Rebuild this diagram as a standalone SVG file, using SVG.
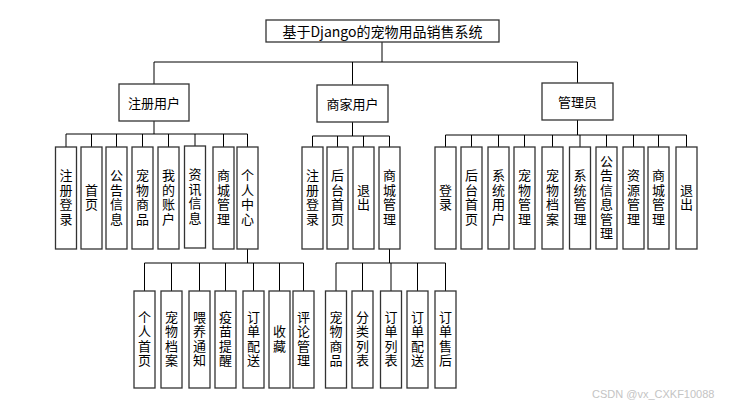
<svg xmlns="http://www.w3.org/2000/svg" width="737" height="406" viewBox="0 0 737 406">
<style>
.box{fill:#fff;stroke:#333;stroke-width:1.3}
.ln{fill:none;stroke:#000;stroke-width:1}
text{font-family:"Noto Sans CJK SC","Noto Sans",sans-serif;fill:#000}
.h{font-size:13px;text-anchor:middle;dominant-baseline:central}
.v{font-size:13px;text-anchor:middle;writing-mode:vertical-rl;letter-spacing:1.5px}
.t{font-size:14px;text-anchor:middle;dominant-baseline:central}
.wm{font-family:"Liberation Sans",Arial,sans-serif;font-size:11px;fill:#c4c4c4}
</style>
<rect width="737" height="406" fill="#fff"/>
<g id="connectors">
<path class="ln" d="M382 42V62M154 62H577.5M154 62V84M352.5 62V85M577.5 62V83"/>
<path class="ln" d="M154 121V134M66 134H247.5M66 134V147M91.5 134V147M116.5 134V147M142.5 134V147M168.5 134V147M195 134V147M223.5 134V147M247.5 134V147"/>
<path class="ln" d="M352.5 122V136M312.5 136H389.5M312.5 136V147M337.5 136V147M363.5 136V147M389.5 136V147"/>
<path class="ln" d="M577.5 120V135M445.5 135H686.5M445.5 135V147M471.5 135V147M498.5 135V147M524.5 135V147M552.5 135V147M580 135V147M606.5 135V147M633.5 135V147M658.5 135V147M686.5 135V147"/>
<path class="ln" d="M247.5 249V263M144.5 263H303.5M144.5 263V291M171.5 263V291M199.5 263V291M225.5 263V291M253.5 263V291M279.5 263V291M303.5 263V291"/>
<path class="ln" d="M389.5 249V263M336 263H445.5M336 263V291M362.5 263V291M391 263V291M417.5 263V291M445.5 263V291"/>
</g>
<g id="root"><rect class="box" x="266" y="20" width="233" height="22"/><text class="t" x="382.5" y="31">基于Django的宠物用品销售系统</text></g>
<g id="user"><rect class="box" x="119" y="84" width="70" height="37"/><text class="h" x="154" y="102.5">注册用户</text></g>
<g id="merchant"><rect class="box" x="317" y="85" width="71" height="37"/><text class="h" x="352.5" y="103.5">商家用户</text></g>
<g id="admin"><rect class="box" x="542" y="83" width="71" height="37"/><text class="h" x="577.5" y="101.5">管理员</text></g>

<g id="u1"><rect class="box" x="55.5" y="147" width="21" height="102"/><text class="v" x="66" y="198">注册登录</text></g>
<g id="u2"><rect class="box" x="81" y="147" width="21" height="102"/><text class="v" x="91.5" y="198">首页</text></g>
<g id="u3"><rect class="box" x="106" y="147" width="21" height="102"/><text class="v" x="116.5" y="198">公告信息</text></g>
<g id="u4"><rect class="box" x="132" y="147" width="21" height="102"/><text class="v" x="142.5" y="198">宠物商品</text></g>
<g id="u5"><rect class="box" x="158" y="147" width="21" height="102"/><text class="v" x="168.5" y="198">我的账户</text></g>
<g id="u6"><rect class="box" x="184.5" y="146" width="21" height="102"/><text class="v" x="195" y="197">资讯信息</text></g>
<g id="u7"><rect class="box" x="213" y="147" width="21" height="102"/><text class="v" x="223.5" y="198">商城管理</text></g>
<g id="u8"><rect class="box" x="237" y="147" width="21" height="102"/><text class="v" x="247.5" y="198">个人中心</text></g>

<g id="m1"><rect class="box" x="302" y="147" width="21" height="102"/><text class="v" x="312.5" y="198">注册登录</text></g>
<g id="m2"><rect class="box" x="327" y="147" width="21" height="102"/><text class="v" x="337.5" y="198">后台首页</text></g>
<g id="m3"><rect class="box" x="353" y="147" width="21" height="102"/><text class="v" x="363.5" y="198">退出</text></g>
<g id="m4"><rect class="box" x="379" y="147" width="21" height="102"/><text class="v" x="389.5" y="198">商城管理</text></g>

<g id="a1"><rect class="box" x="435" y="147" width="21" height="102"/><text class="v" x="445.5" y="198">登录</text></g>
<g id="a2"><rect class="box" x="461" y="147" width="21" height="102"/><text class="v" x="471.5" y="198">后台首页</text></g>
<g id="a3"><rect class="box" x="488" y="147" width="21" height="102"/><text class="v" x="498.5" y="198">系统用户</text></g>
<g id="a4"><rect class="box" x="514" y="147" width="21" height="102"/><text class="v" x="524.5" y="198">宠物管理</text></g>
<g id="a5"><rect class="box" x="542" y="147" width="21" height="102"/><text class="v" x="552.5" y="198">宠物档案</text></g>
<g id="a6"><rect class="box" x="569.5" y="147" width="21" height="102"/><text class="v" x="580" y="198">系统管理</text></g>
<g id="a7"><rect class="box" x="596" y="147" width="21" height="102"/><text class="v" x="606.5" y="198">公告信息管理</text></g>
<g id="a8"><rect class="box" x="623" y="147" width="21" height="102"/><text class="v" x="633.5" y="198">资源管理</text></g>
<g id="a9"><rect class="box" x="648" y="147" width="21" height="102"/><text class="v" x="658.5" y="198">商城管理</text></g>
<g id="a10"><rect class="box" x="676" y="147" width="21" height="102"/><text class="v" x="686.5" y="198">退出</text></g>

<g id="p1"><rect class="box" x="134" y="291" width="21" height="97"/><text class="v" x="144.5" y="339.5">个人首页</text></g>
<g id="p2"><rect class="box" x="161" y="291" width="21" height="97"/><text class="v" x="171.5" y="339.5">宠物档案</text></g>
<g id="p3"><rect class="box" x="189" y="291" width="21" height="97"/><text class="v" x="199.5" y="339.5">喂养通知</text></g>
<g id="p4"><rect class="box" x="215" y="291" width="21" height="97"/><text class="v" x="225.5" y="339.5">疫苗提醒</text></g>
<g id="p5"><rect class="box" x="243" y="291" width="21" height="97"/><text class="v" x="253.5" y="339.5">订单配送</text></g>
<g id="p6"><rect class="box" x="269" y="291" width="21" height="97"/><text class="v" x="279.5" y="339.5">收藏</text></g>
<g id="p7"><rect class="box" x="293" y="291" width="21" height="97"/><text class="v" x="303.5" y="339.5">评论管理</text></g>

<g id="s1"><rect class="box" x="325.5" y="291" width="21" height="97"/><text class="v" x="336" y="339.5">宠物商品</text></g>
<g id="s2"><rect class="box" x="352" y="291" width="21" height="97"/><text class="v" x="362.5" y="339.5">分类列表</text></g>
<g id="s3"><rect class="box" x="380.5" y="291" width="21" height="97"/><text class="v" x="391" y="339.5">订单列表</text></g>
<g id="s4"><rect class="box" x="407" y="291" width="21" height="97"/><text class="v" x="417.5" y="339.5">订单配送</text></g>
<g id="s5"><rect class="box" x="435" y="291" width="21" height="97"/><text class="v" x="445.5" y="339.5">订单售后</text></g>

<text class="wm" x="592" y="398">CSDN @vx_CXKF10088</text>
</svg>
